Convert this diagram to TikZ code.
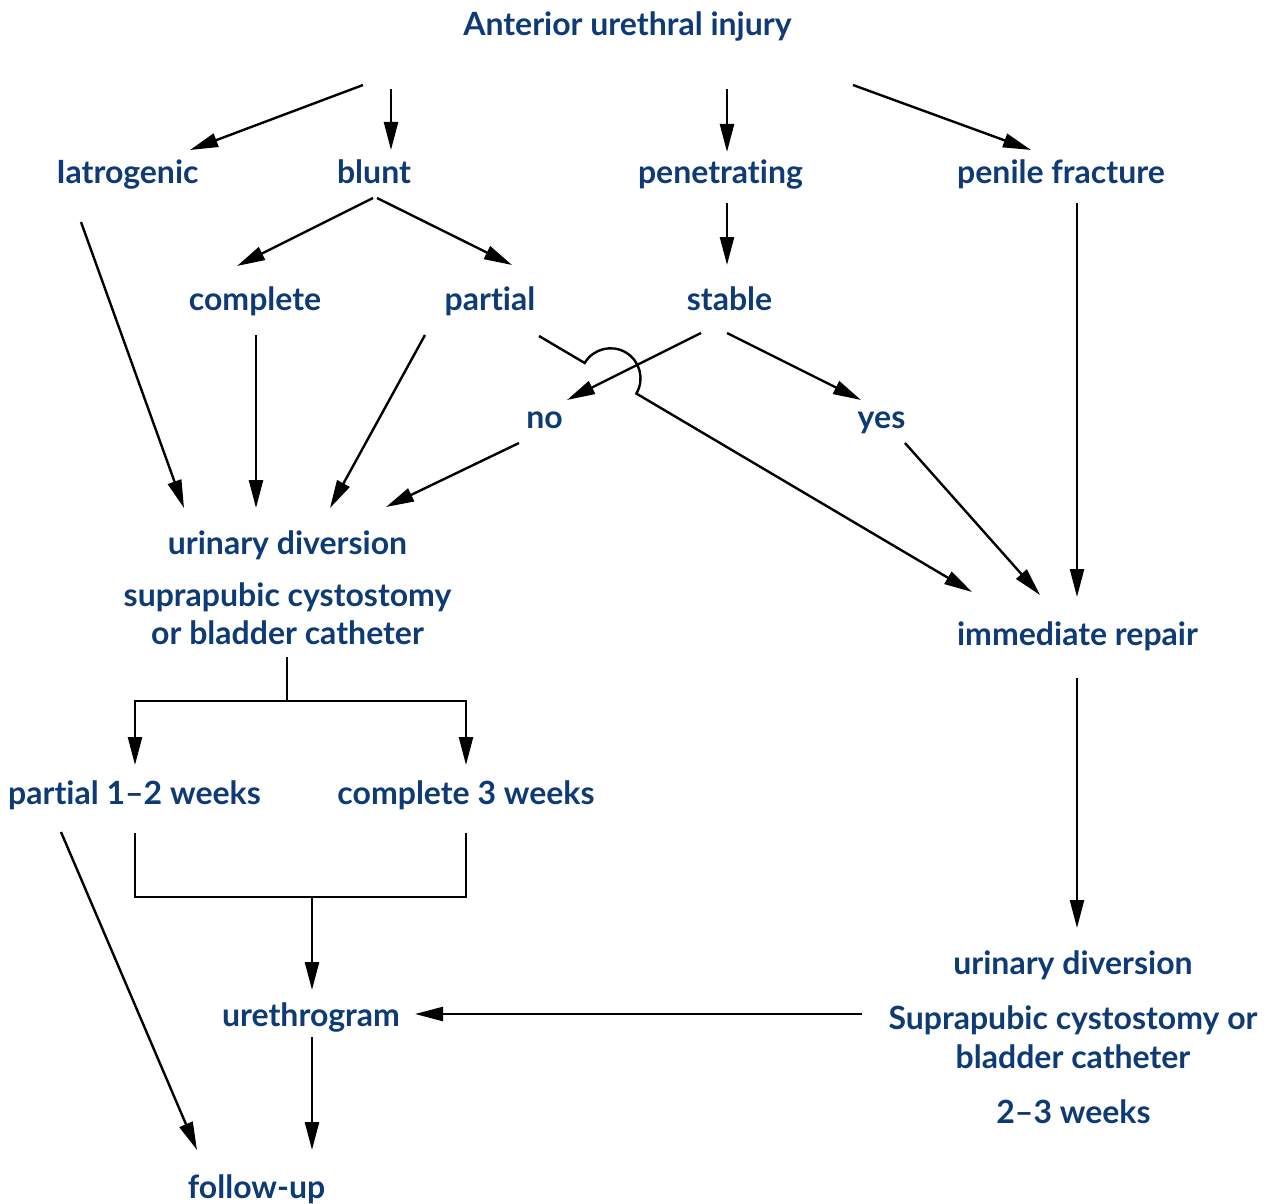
\documentclass[tikz,border=0pt]{standalone}
\usepackage{fontspec}
\setmainfont{Lato}[Ligatures=NoCommon]
\usetikzlibrary{arrows.meta,calc}

\definecolor{navy}{HTML}{0E3A76}

\tikzset{
  lbl/.style={anchor=base, inner sep=0pt, text=navy,
    font=\fontsize{32}{38}\selectfont\bfseries},
  titlelbl/.style={lbl},
  conn/.style={draw=black, line width=2.4pt},
  arr/.style={conn, -{Triangle[length=28pt,width=14pt]}},
}

\begin{document}
\begin{tikzpicture}[x=1pt, y=-1pt]
\useasboundingbox (0,0) rectangle (1270,1204);

% ---- labels (placed on their baselines)
\node[titlelbl] (title) at (627.5,36)  {Anterior urethral injury};
\node[lbl] (iat)   at (127.5,184) {Iatrogenic};
\node[lbl] (blunt) at (374,184)   {blunt};
\node[lbl] (pen)   at (720.5,184) {penetrating};
\node[lbl] (pf)    at (1061,184)  {penile fracture};
\node[lbl] (comp)  at (255,310)   {complete};
\node[lbl] (part)  at (490,310)   {partial};
\node[lbl] (stab)  at (729.5,310) {stable};
\node[lbl] (no)    at (544.5,428) {no};
\node[lbl] (yes)   at (881.5,428) {yes};
\node[lbl] (udl)   at (287.5,554) {urinary diversion};
\node[lbl] (supla) at (287.5,606) {suprapubic cystostomy};
\node[lbl] (suplb) at (287.5,644) {or bladder catheter};
\node[lbl] (rep)   at (1077.5,645) {immediate repair};
\node[lbl] (wa)    at (134.5,804) {partial 1--2 weeks};
\node[lbl] (wb)    at (466,804)   {complete 3 weeks};
\node[lbl] (udr)   at (1073,974)  {urinary diversion};
\node[lbl] (supra) at (1073,1029) {Suprapubic cystostomy or};
\node[lbl] (suprb) at (1073,1068) {bladder catheter};
\node[lbl] (wc)    at (1073.5,1123) {2--3 weeks};
\node[lbl] (ureth) at (311,1026)  {urethrogram};
\node[lbl] (fu)    at (256.5,1198) {follow-up};

% ---- first split
\draw[arr] ($(title.base)+(-264.5,49)$) -- ($(iat.base)+(62.5,-34)$);
\draw[arr] ($(title.base)+(-236.5,53)$) -- ($(blunt.base)+(17,-34)$);
\draw[arr] ($(title.base)+(99.5,53)$)   -- ($(pen.base)+(6.5,-32)$);
\draw[arr] ($(title.base)+(225.5,49)$)  -- ($(pf.base)+(-30,-34)$);

% ---- second level
\draw[arr] ($(blunt.base)+(-1,14)$) -- ($(comp.base)+(-18,-44)$);
\draw[arr] ($(blunt.base)+(3,14)$)  -- ($(part.base)+(22,-45)$);
\draw[arr] ($(pen.base)+(6.5,19)$)  -- ($(stab.base)+(-2.5,-45)$);
\draw[arr] ($(pf.base)+(16,19)$)    -- ($(rep.base)+(-0.5,-48)$);

% ---- into urinary diversion
\draw[arr] ($(iat.base)+(-46.5,38)$)  -- ($(udl.base)+(-103.5,-46)$);
\draw[arr] ($(comp.base)+(1,25)$)     -- ($(udl.base)+(-31.5,-46)$);
\draw[arr] ($(part.base)+(-65,25)$)   -- ($(udl.base)+(42.5,-46)$);
\draw[arr] ($(no.base)+(-25.5,15)$)   -- ($(udl.base)+(98.5,-47)$);

% ---- stable or not
\draw[arr] ($(stab.base)+(-28.5,23)$) -- ($(no.base)+(22.5,-28)$);
\draw[arr] ($(stab.base)+(-2.5,23)$)  -- ($(yes.base)+(-20.5,-28)$);
\draw[arr] ($(yes.base)+(23.5,15)$)   -- ($(rep.base)+(-37.5,-50)$);

% ---- partial to immediate repair, hopping over the stable/no line
\draw[arr] ($(part.base)+(49,26)$) -- ($(part.base)+(94.7,53)$)
  arc[start angle=210.6, end angle=390.6, radius=30]
  -- ($(rep.base)+(-105.5,-53)$);

% ---- diversion time split
\draw[arr] ($(suplb.base)+(-0.5,13)$) -- ++(0,44) -| ($(wa.base)+(0.5,-39)$);
\draw[arr] ($(suplb.base)+(-0.5,13)$) -- ++(0,44) -| ($(wb.base)+(0,-39)$);

% ---- merge into urethrogram
\draw[conn] ($(wa.base)+(0.5,29)$) -- ++(0,64) -| ($(wb.base)+(0,29)$);
\coordinate (merge) at ($(ureth.base)+(1,-129)$);
\draw[arr] (merge) -- ($(ureth.base)+(1,-36)$);

% ---- follow-up
\draw[arr] ($(wa.base)+(-73.5,28)$) -- ($(fu.base)+(-59.5,-48)$);
\draw[arr] ($(ureth.base)+(1,11)$)  -- ($(fu.base)+(55.5,-48)$);

% ---- right-hand column
\draw[arr] ($(rep.base)+(-0.5,33)$)  -- ($(udr.base)+(4,-46)$);
\draw[arr] ($(supra.base)+(-211,-15)$) -- ($(ureth.base)+(104,-12)$);

\end{tikzpicture}
\end{document}
